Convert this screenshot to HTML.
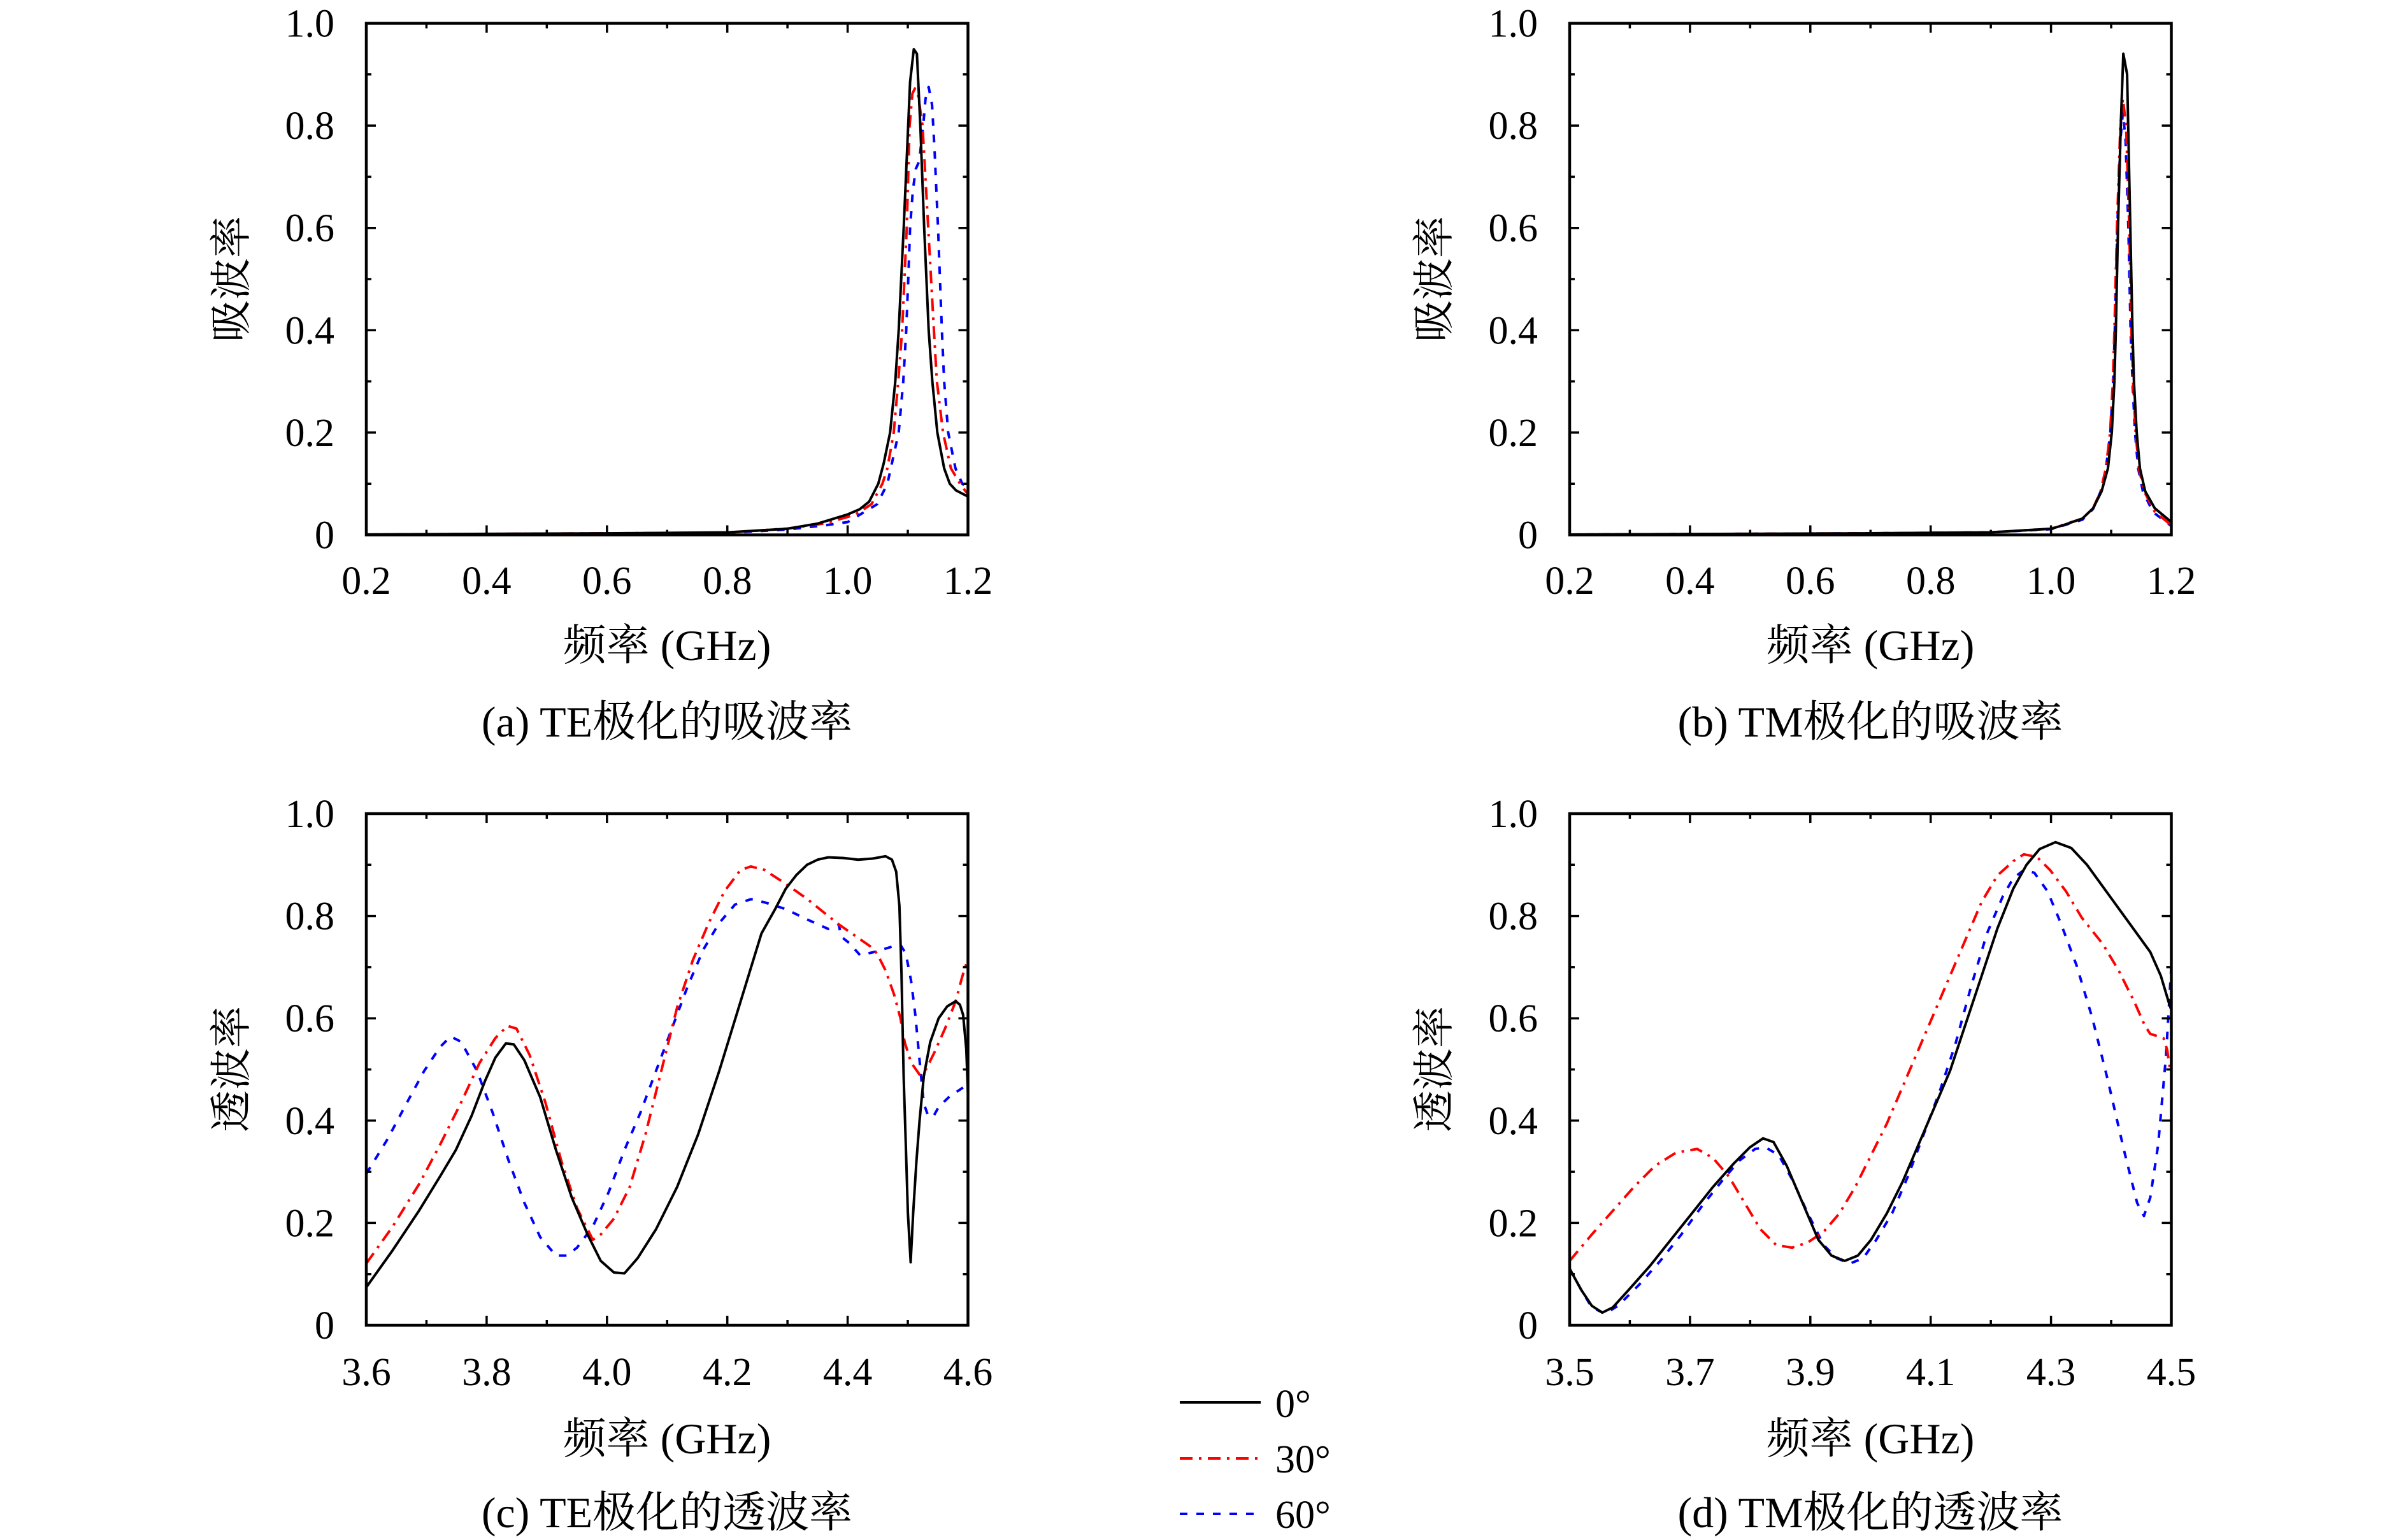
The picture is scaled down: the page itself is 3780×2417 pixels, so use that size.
<!DOCTYPE html>
<html>
<head>
<meta charset="utf-8">
<style>
html,body{margin:0;padding:0;background:#fff}
svg{display:block}
text{font-family:"Liberation Serif","Noto Serif CJK SC",serif;fill:#000}
.tl{font-size:62px}
.ax{font-size:68px}
.yl{font-size:66px}
.lg{font-size:62px}
.k{fill:none;stroke:#000;stroke-width:4;stroke-linejoin:round}
.r{fill:none;stroke:#f00;stroke-width:4;stroke-linejoin:round;stroke-dasharray:20 10 4 10}
.b{fill:none;stroke:#00f;stroke-width:4;stroke-linejoin:round;stroke-dasharray:12 14}
.k2{fill:none;stroke:#000;stroke-width:4.8;stroke-linejoin:round}
.r2{fill:none;stroke:#f00;stroke-width:4.8;stroke-linejoin:round;stroke-dasharray:24 12 4.8 12}
.b2{fill:none;stroke:#00f;stroke-width:4.8;stroke-linejoin:round;stroke-dasharray:14.4 16.8}
</style>
</head>
<body>
<svg width="3780" height="2417" viewBox="0 0 3780 2417" xmlns="http://www.w3.org/2000/svg">
<rect x="0" y="0" width="3780" height="2417" fill="#fff"/>
<defs>
<g id="tk">
<path fill="none" stroke="#000" stroke-width="3.5" d="M188.9 803v-15M377.8 803v-15M566.7 803v-15M755.6 803v-15M188.9 0v15M377.8 0v15M566.7 0v15M755.6 0v15M94.45 803v-8M283.35 803v-8M472.25 803v-8M661.15 803v-8M850.05 803v-8M94.45 0v8M283.35 0v8M472.25 0v8M661.15 0v8M850.05 0v8M0 642.4h15M0 481.8h15M0 321.2h15M0 160.6h15M944.5 642.4h-15M944.5 481.8h-15M944.5 321.2h-15M944.5 160.6h-15M0 722.7h8M0 562.1h8M0 401.5h8M0 240.9h8M0 80.3h8M944.5 722.7h-8M944.5 562.1h-8M944.5 401.5h-8M944.5 240.9h-8M944.5 80.3h-8"/>
<rect x="0" y="0" width="944.5" height="803" fill="none" stroke="#000" stroke-width="4.5"/>
</g>
<clipPath id="ca"><rect x="575" y="36.5" width="944.5" height="803"/></clipPath>
<clipPath id="cb"><rect x="2464" y="36.5" width="944.5" height="803"/></clipPath>
<clipPath id="cc"><rect x="575" y="1277" width="944.5" height="803"/></clipPath>
<clipPath id="cd"><rect x="2464" y="1277" width="944.5" height="803"/></clipPath>
</defs>

<!-- Panel (a) -->
<g clip-path="url(#ca)">
<g transform="matrix(0.992122 0 0 0.995043 4.53 -0.317)">
<path class="b" d="M575,843.5 L1146,840.8 L1241,835.5 L1300,829 L1336.6,823.8 L1383.3,795.6 L1399.5,763.3 L1417.4,682.5 L1424.6,601.8 L1429.3,521.1 L1432.5,440.4 L1435.4,359.6 L1439.7,301.5 L1444.4,266.8 L1449.8,254.7 L1456.2,198.2 L1459.8,156.2 L1464.8,137.6 L1470.2,165.9 L1474.2,238.5 L1479.6,359.6 L1485.7,521.1 L1489.3,601.8 L1495.7,682.5 L1507.2,739 L1518,763.3 L1527,769.7"/>
<path class="r" d="M575,843.5 L1146,840.5 L1241,834 L1300,826 L1336.6,815.7 L1349.2,811.7 L1374.3,795.6 L1391.6,763.3 L1399.5,739 L1409.5,682.5 L1416.7,601.8 L1422.8,521.1 L1430.1,359.6 L1434.7,198.2 L1439,148 L1443,140 L1448,150 L1455.1,198.2 L1464.1,359.6 L1473.1,521.1 L1477.8,601.8 L1487.5,682.5 L1500,739 L1514.4,763.3 L1527,780.2"/>
<path class="k" d="M575,843.4 L765.4,842.4 L955.8,841.6 L1146.2,840 L1241.4,834.3 L1289,826.2 L1336.6,811.7 L1355.6,803.6 L1370.7,791.5 L1385.1,763.3 L1393.7,731 L1403.8,682.5 L1412,601.8 L1417.4,521.1 L1425.3,359.6 L1435.4,129.5 L1441.3,77.9 L1446.2,85.1 L1451.6,198.2 L1457.7,359.6 L1464.8,521.1 L1470.6,601.8 L1478.5,682.5 L1489.3,739 L1498.2,763.3 L1508,773.8 L1527,783.5"/>
</g>
</g>
<use href="#tk" x="575" y="36.5"/>

<!-- Panel (b) -->
<g clip-path="url(#cb)">
<g transform="matrix(0.992122 0 0 0.995043 18.42 -0.317)">
<path class="b" d="M2465,843.5 L2941,841.5 L3131.5,840 L3226.9,835 L3276.3,820 L3293.2,803 L3305,776 L3313.4,740 L3320.5,682.5 L3325,601.8 L3327.5,521.1 L3331.5,359.6 L3336.5,220 L3340.3,178 L3344.5,220 L3349,359.6 L3352.5,521.1 L3355.5,601.8 L3359.5,682.5 L3364.5,739 L3372,775.4 L3388,808 L3417,830"/>
<path class="r" d="M2465,843.5 L2941,841.5 L3131.5,840 L3226.9,834.3 L3276.3,818.2 L3293.2,802 L3305,775.4 L3313.4,739 L3320.1,682.5 L3324.5,601.8 L3326.9,521.1 L3330.9,359.6 L3336.3,198.2 L3340.3,156 L3345.4,198.2 L3350.4,359.6 L3353.8,521.1 L3356.5,601.8 L3360.5,682.5 L3365.6,739 L3374,775.4 L3390.8,807.7 L3417,828.7"/>
<path class="k" d="M2465,843.5 L2941,841.5 L3131.5,840 L3226.9,834.3 L3246,828.7 L3276.3,818.2 L3293.2,802 L3306.6,775.4 L3316.7,739 L3322.8,682.5 L3326.9,601.8 L3329.2,521.1 L3332.6,359.6 L3337,198.2 L3341,85.1 L3347,117.4 L3348.7,198.2 L3352.1,359.6 L3355.5,521.1 L3357.8,601.8 L3362.2,682.5 L3367.3,739 L3375.7,775.4 L3390.8,802 L3417,823.8"/>
</g>
</g>
<use href="#tk" x="2464" y="36.5"/>

<!-- Panel (c) -->
<g clip-path="url(#cc)">
<g transform="matrix(0.992122 0 0 0.995043 4.53 5.335)">
<path class="b" d="M575,1846 L608.3,1791.9 L641.7,1729.4 L666.7,1683.6 L691.7,1646.1 L708.4,1629.5 L725,1637.8 L750.1,1683.6 L775.1,1750.2 L800.1,1825.2 L825.1,1891.8 L850.1,1945.9 L875.1,1975.1 L891.8,1975.1 L908.4,1962.6 L933.4,1929.3 L958.5,1875.1 L983.5,1808.5 L1008.5,1750.2 L1033.5,1683.6 L1058.5,1617 L1083.5,1550.3 L1108.5,1492 L1133.5,1450.4 L1158.5,1421.3 L1183.5,1412.9 L1205.1,1417.9 L1238.7,1428.6 L1272.3,1444.8 L1305.9,1459.8 L1322.7,1452.8 L1326.1,1471.7 L1339.5,1482.4 L1356.3,1501.3 L1379.8,1495.9 L1406.7,1487.8 L1420.2,1485.1 L1428.6,1498.6 L1437,1541.6 L1443.7,1595.4 L1448.7,1649.2 L1453.8,1703 L1457.1,1735.3 L1463.8,1754.1 L1472.2,1755.7 L1480.6,1740.7 L1497.4,1724.5 L1517.6,1711.1 L1527,1703"/>
<path class="r" d="M575,1987.6 L616.7,1929.3 L658.4,1862.6 L691.7,1800.2 L725,1733.6 L754.2,1671.1 L779.2,1632 L798.4,1612.8 L812.6,1617 L833.4,1658.6 L858.4,1733.6 L883.4,1825.2 L908.4,1900.1 L933.4,1950.1 L945.9,1941.8 L966.8,1916.8 L991.8,1866.8 L1016.8,1783.5 L1041.8,1683.6 L1066.8,1583.7 L1091.8,1508.7 L1116.8,1450.4 L1141.8,1400.4 L1166.9,1367.1 L1183.5,1361.3 L1205.1,1366.8 L1242.1,1391 L1272.3,1412.5 L1305.9,1439.4 L1322.7,1452.8 L1346.2,1469 L1373.1,1487.8 L1383.2,1498.6 L1396.6,1525.5 L1410,1563.1 L1420.2,1600.8 L1426.9,1638.5 L1437,1670.7 L1450.4,1689.6 L1460.5,1681.5 L1473.9,1654.6 L1490.7,1616.9 L1507.5,1573.9 L1517.6,1536.2 L1527,1506.6"/>
<path class="k" d="M575,2025 L616.7,1966.7 L658.4,1904.3 L691.7,1850.2 L716.7,1808.5 L741.7,1754.4 L762.6,1700.2 L779.2,1662.8 L795.9,1640.3 L808.4,1642 L825.1,1667 L850.1,1725.2 L875.1,1808.5 L900.1,1883.5 L925.1,1941.8 L945.9,1983.4 L966.8,2001.7 L983.5,2003.1 L1004.3,1979.2 L1033.5,1933.4 L1066.8,1866.8 L1100.2,1783.5 L1133.5,1683.6 L1166.9,1575.3 L1200.2,1467.1 L1221.9,1428.6 L1238.7,1396.4 L1255.5,1374.8 L1272.3,1358.7 L1289.1,1350.6 L1305.9,1346.9 L1330,1348 L1353,1350.6 L1375,1349 L1396.6,1345.2 L1406.7,1350.6 L1413.4,1369.5 L1418.5,1423.3 L1421.8,1530.9 L1425.2,1692.3 L1428.6,1799.9 L1431.9,1907.5 L1436.3,1985.5 L1440.3,1907.5 L1445.4,1826.8 L1450.4,1762.2 L1457.1,1692.3 L1467.2,1638.5 L1480.6,1600.8 L1494.1,1582 L1507.5,1573.9 L1514.2,1579.3 L1519.3,1595.4 L1524.3,1649.2 L1527,1719.2"/>
</g>
</g>
<use href="#tk" x="575" y="1277"/>

<!-- Panel (d) -->
<g clip-path="url(#cd)">
<g transform="matrix(0.82706 0 0 0.82869 2201 1117.1)">
<path class="b2" d="M318,1055 L340,1095 L360,1128 L385,1140 L410,1125 L450,1085 L490,1040 L530,990 L570,935 L610,885 L640,850 L670,828 L690,825 L715,840 L740,885 L770,950 L800,1010 L825,1035 L850,1045 L875,1035 L900,1000 L930,950 L960,880 L990,800 L1020,720 L1050,630 L1080,520 L1110,420 L1140,350 L1160,315 L1180,300 L1200,305 L1225,340 L1250,400 L1280,480 L1310,580 L1340,700 L1370,830 L1395,930 L1408,955 L1420,920 L1435,820 L1450,650 L1460,480"/>
<path class="r2" d="M318,1040 L360,990 L400,945 L440,900 L480,860 L520,835 L560,828 L590,845 L620,880 L650,930 L680,980 L710,1010 L740,1015 L770,1005 L800,985 L830,950 L860,900 L890,840 L920,780 L950,710 L980,640 L1010,570 L1040,500 L1070,430 L1100,360 L1130,310 L1160,283 L1180,270 L1205,275 L1230,300 L1260,340 L1290,390 L1330,440 L1360,490 L1390,550 L1410,595 L1420,610 L1445,618 L1452,640 L1458,680"/>
<path class="k2" d="M318,1055 L340,1095 L360,1125 L380,1138 L400,1128 L430,1095 L470,1050 L510,1000 L550,950 L590,900 L630,855 L660,825 L685,808 L705,815 L730,860 L760,930 L790,1000 L815,1030 L840,1040 L865,1030 L890,1000 L920,950 L950,890 L980,820 L1010,750 L1040,680 L1070,590 L1100,500 L1130,410 L1160,335 L1185,290 L1210,260 L1240,247 L1270,258 L1300,290 L1340,345 L1380,400 L1420,455 L1440,500 L1455,550 L1460,565"/>
</g>
</g>
<use href="#tk" x="2464" y="1277"/>

<!-- Y tick labels -->
<g class="tl" text-anchor="end">
<text x="525" y="57.5">1.0</text><text x="525" y="218.1">0.8</text><text x="525" y="378.7">0.6</text><text x="525" y="539.3">0.4</text><text x="525" y="699.9">0.2</text><text x="525" y="860.5">0</text>
<text x="2414" y="57.5">1.0</text><text x="2414" y="218.1">0.8</text><text x="2414" y="378.7">0.6</text><text x="2414" y="539.3">0.4</text><text x="2414" y="699.9">0.2</text><text x="2414" y="860.5">0</text>
<text x="525" y="1298">1.0</text><text x="525" y="1458.6">0.8</text><text x="525" y="1619.2">0.6</text><text x="525" y="1779.8">0.4</text><text x="525" y="1940.4">0.2</text><text x="525" y="2101">0</text>
<text x="2414" y="1298">1.0</text><text x="2414" y="1458.6">0.8</text><text x="2414" y="1619.2">0.6</text><text x="2414" y="1779.8">0.4</text><text x="2414" y="1940.4">0.2</text><text x="2414" y="2101">0</text>
</g>

<!-- X tick labels -->
<g class="tl" text-anchor="middle">
<text x="575" y="932">0.2</text><text x="763.9" y="932">0.4</text><text x="952.8" y="932">0.6</text><text x="1141.7" y="932">0.8</text><text x="1330.6" y="932">1.0</text><text x="1519.5" y="932">1.2</text>
<text x="2464" y="932">0.2</text><text x="2652.9" y="932">0.4</text><text x="2841.8" y="932">0.6</text><text x="3030.7" y="932">0.8</text><text x="3219.6" y="932">1.0</text><text x="3408.5" y="932">1.2</text>
<text x="575" y="2174">3.6</text><text x="763.9" y="2174">3.8</text><text x="952.8" y="2174">4.0</text><text x="1141.7" y="2174">4.2</text><text x="1330.6" y="2174">4.4</text><text x="1519.5" y="2174">4.6</text>
<text x="2464" y="2174">3.5</text><text x="2652.9" y="2174">3.7</text><text x="2841.8" y="2174">3.9</text><text x="3030.7" y="2174">4.1</text><text x="3219.6" y="2174">4.3</text><text x="3408.5" y="2174">4.5</text>
</g>

<!-- Axis titles -->
<g class="ax" text-anchor="middle">
<text x="1047" y="1036">频率 (GHz)</text>
<text x="2936" y="1036">频率 (GHz)</text>
<text x="1047" y="2281">频率 (GHz)</text>
<text x="2936" y="2281">频率 (GHz)</text>
</g>
<g class="yl" text-anchor="middle">
<text transform="translate(364,438) rotate(-90)" dominant-baseline="central">吸波率</text>
<text transform="translate(2252,438) rotate(-90)" dominant-baseline="central">吸波率</text>
<text transform="translate(364,1678) rotate(-90)" dominant-baseline="central">透波率</text>
<text transform="translate(2252,1678) rotate(-90)" dominant-baseline="central">透波率</text>
</g>

<!-- Captions -->
<g class="ax" text-anchor="middle">
<text x="1047" y="1156">(a) TE极化的吸波率</text>
<text x="2936" y="1156">(b) TM极化的吸波率</text>
<text x="1047" y="2397">(c) TE极化的透波率</text>
<text x="2936" y="2397">(d) TM极化的透波率</text>
</g>

<!-- Legend -->
<path d="M1852 2201H1979" stroke="#000" stroke-width="4" fill="none"/>
<path d="M1852 2289H1979" stroke="#f00" stroke-width="4" fill="none" stroke-dasharray="20 10 4 10"/>
<path d="M1852 2376H1979" stroke="#00f" stroke-width="4" fill="none" stroke-dasharray="12 14"/>
<g class="lg">
<text x="2002" y="2224">0°</text>
<text x="2002" y="2311">30°</text>
<text x="2002" y="2398">60°</text>
</g>
</svg>
</body>
</html>
